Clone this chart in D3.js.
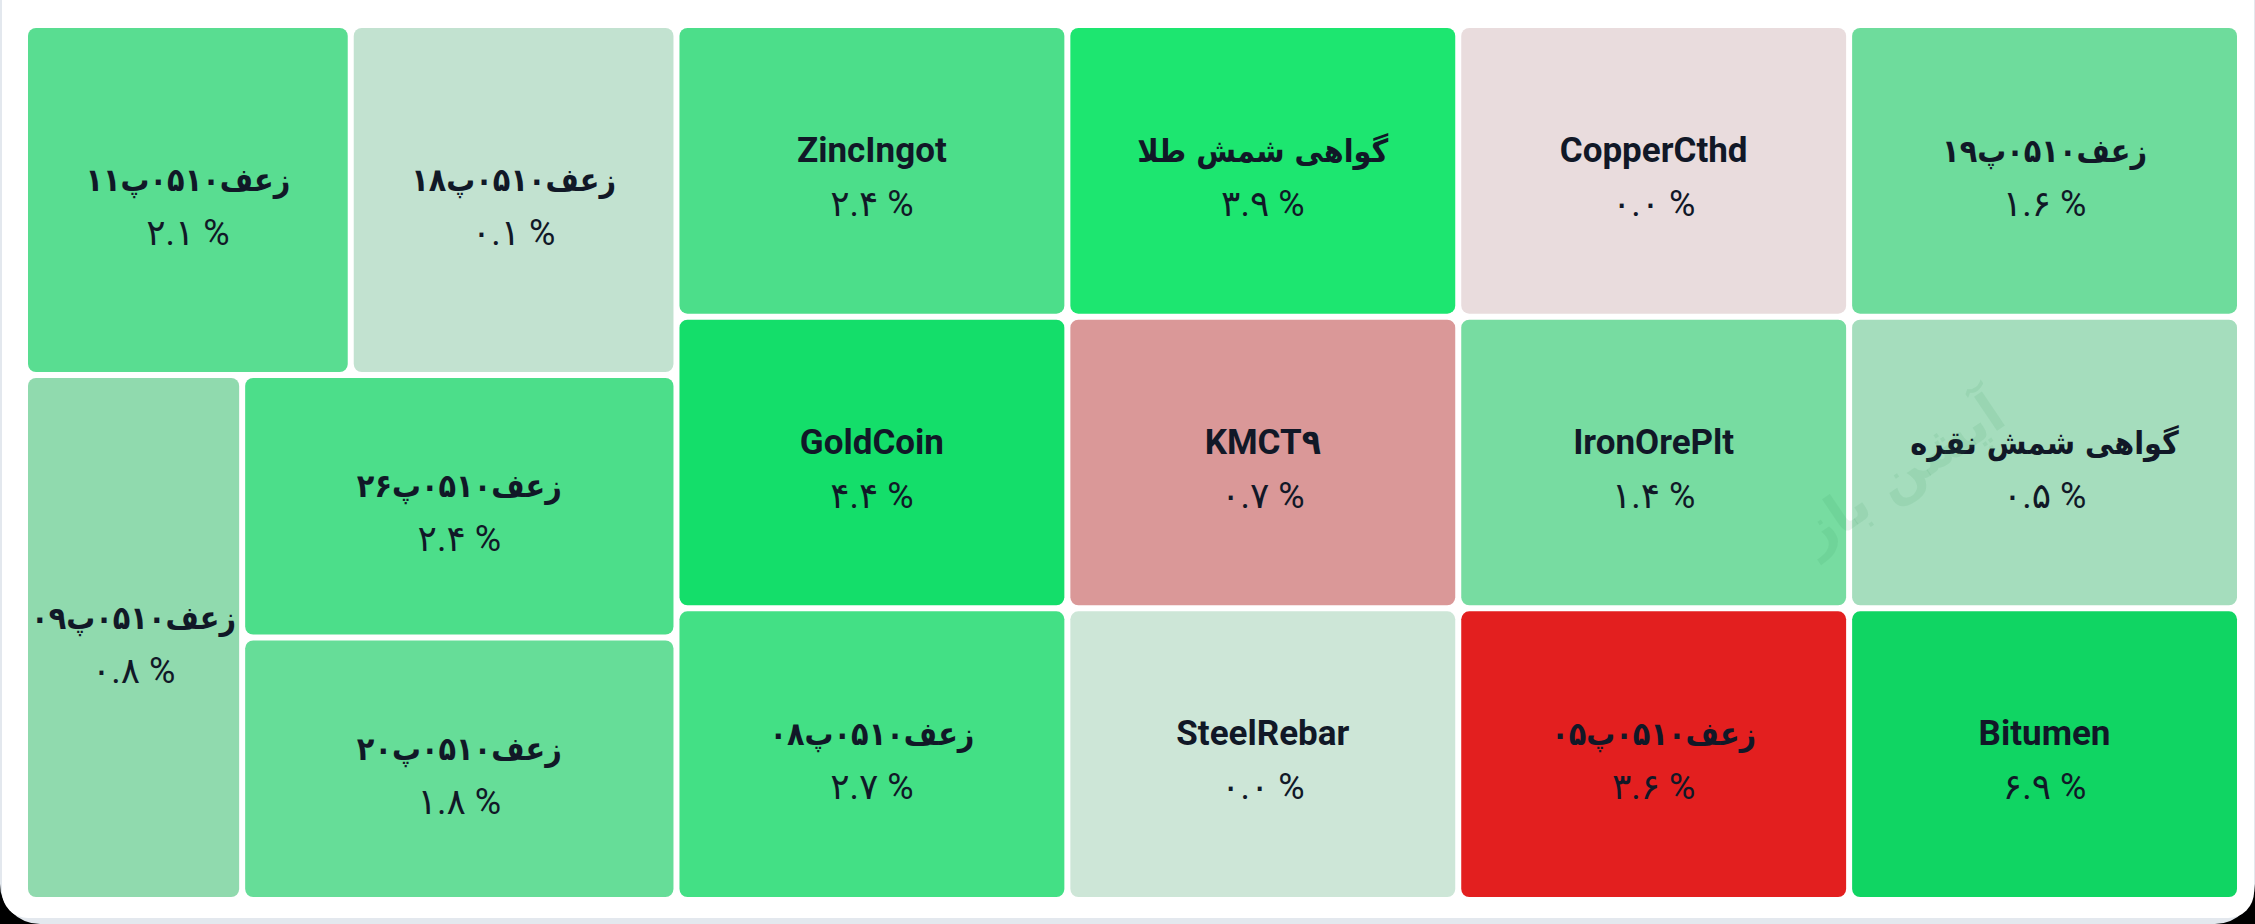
<!DOCTYPE html>
<html>
<head>
<meta charset="utf-8">
<script src="https://cdn.jsdelivr.net/npm/d3@7"></script>
<style>
  html, body { margin: 0; padding: 0; background: #000; overflow: hidden; }
  svg { display: block; }
  .name { font-family: Roboto, "DejaVu Sans Condensed", "DejaVu Sans", sans-serif; font-weight: 700; fill: #111827; }
  .name.fa { font-family: "DejaVu Sans Condensed", "DejaVu Sans", sans-serif; }
  .value { font-family: Roboto, "DejaVu Sans", sans-serif; font-weight: 400; fill: #111827; }
</style>
</head>
<body>
<div class="treemap"></div>
<script>
// contracts, in the order the treemap lays them out
const names = [
    'زعف۰۵۱۰پ۱۹', 'گواهی شمش نقره', 'Bitumen',
    'CopperCthd', 'IronOrePlt', 'زعف۰۵۱۰پ۰۵',
    'گواهی شمش طلا', 'KMCT۹', 'SteelRebar',
    'ZincIngot', 'GoldCoin', 'زعف۰۵۱۰پ۰۸',
    'زعف۰۵۱۰پ۱۸', 'زعف۰۵۱۰پ۱۱',
    'زعف۰۵۱۰پ۲۶', 'زعف۰۵۱۰پ۲۰', 'زعف۰۵۱۰پ۰۹'
];
// daily change, percent
const changes = [
    1.6, 0.5, 6.9,
    -0.03, 1.4, -3.6,
    3.9, -0.7, 0.03,
    2.4, 4.4, 2.7,
    0.1, 2.1,
    2.4, 1.8, 0.8
];
// every tile has the same weight
const sizes = [1, 1, 1, 1, 1, 1, 1, 1, 1, 1, 1, 1, 1, 1, 1, 1, 1];

const width = 2255, height = 924;
const margin = { top: 25, right: 15, bottom: 24, left: 25 };
const W = width - margin.left - margin.right;
const H = height - margin.top - margin.bottom;
const gap = 3;

const posColor = d3.scaleLinear()
    .domain([0, 0.1, 0.8, 2.4, 3.9, 4.4, 6.9])
    .range(['#d1e7da', '#c2e2d0', '#90daae', '#4cde8a', '#1de670', '#14de6a', '#10d563']);
const negColor = d3.scaleLinear()
    .domain([0, 0.7, 3.6])
    .range(['#eadfe0', '#da9898', '#e31f1f']);
const tileColor = v => v < 0 ? negColor(-v) : posColor(v);

const faDigits = '۰۱۲۳۴۵۶۷۸۹';
const toFa = s => String(s).replace(/[0-9]/g, c => faDigits[+c]);
const isFa = s => /[\u0600-\u06ff]/.test(s.replace(/[\u06f0-\u06f9]/g, ''));

const svg = d3.select('.treemap').append('svg')
    .attr('width', width)
    .attr('height', height);

// screen corners, page and card
svg.append('rect').attr('width', width).attr('height', height).attr('fill', '#000');
svg.append('rect').attr('x', 0).attr('y', -60).attr('width', width).attr('height', height + 60)
    .attr('rx', 40).attr('fill', '#e3e8ee');
svg.append('rect').attr('x', 2).attr('y', -40).attr('width', width - 3).attr('height', 958)
    .attr('rx', 26).attr('fill', '#ffffff');

const root = d3.hierarchy({ children: names.map((n, i) => ({ name: n, change: changes[i], size: sizes[i] })) })
    .sum(d => d.size || 0);

d3.treemap()
    .tile(d3.treemapSquarify.ratio(1))
    .size([W, H])(root);

// the page is right-to-left, so the layout is mirrored
const x = d3.scaleLinear().domain([0, W]).range([margin.left + W, margin.left]);
const y = d3.scaleLinear().domain([0, H]).range([margin.top, margin.top + H]);

const cell = svg.append('g')
    .selectAll('g')
    .data(root.leaves())
    .join('g');

cell.append('rect')
    .attr('x', d => x(d.x1) + gap)
    .attr('y', d => y(d.y0) + gap)
    .attr('width', d => x(d.x0) - x(d.x1) - 2 * gap)
    .attr('height', d => y(d.y1) - y(d.y0) - 2 * gap)
    .attr('rx', 8)
    .attr('fill', d => tileColor(d.data.change));

cell.append('text')
    .attr('class', d => isFa(d.data.name) ? 'name fa' : 'name')
    .attr('x', d => (x(d.x0) + x(d.x1)) / 2)
    .attr('y', d => (y(d.y0) + y(d.y1)) / 2 - 9)
    .attr('text-anchor', 'middle')
    .attr('font-size', d => isFa(d.data.name) ? 32 : 35)
    .text(d => d.data.name);

cell.append('text')
    .attr('class', 'value')
    .attr('x', d => (x(d.x0) + x(d.x1)) / 2)
    .attr('y', d => (y(d.y0) + y(d.y1)) / 2 + 45)
    .attr('text-anchor', 'middle')
    .attr('font-size', 36)
    .text(d => toFa(Math.abs(d.data.change).toFixed(1)) + ' %');

// faint watermark
svg.append('text')
    .attr('transform', 'translate(1912,488) rotate(-34)')
    .attr('text-anchor', 'middle')
    .attr('font-family', '"DejaVu Sans", sans-serif')
    .attr('font-weight', 700)
    .attr('font-size', 54)
    .attr('fill', '#2f8f5a')
    .attr('fill-opacity', 0.1)
    .text('آپشن باز');
</script>
</body>
</html>
